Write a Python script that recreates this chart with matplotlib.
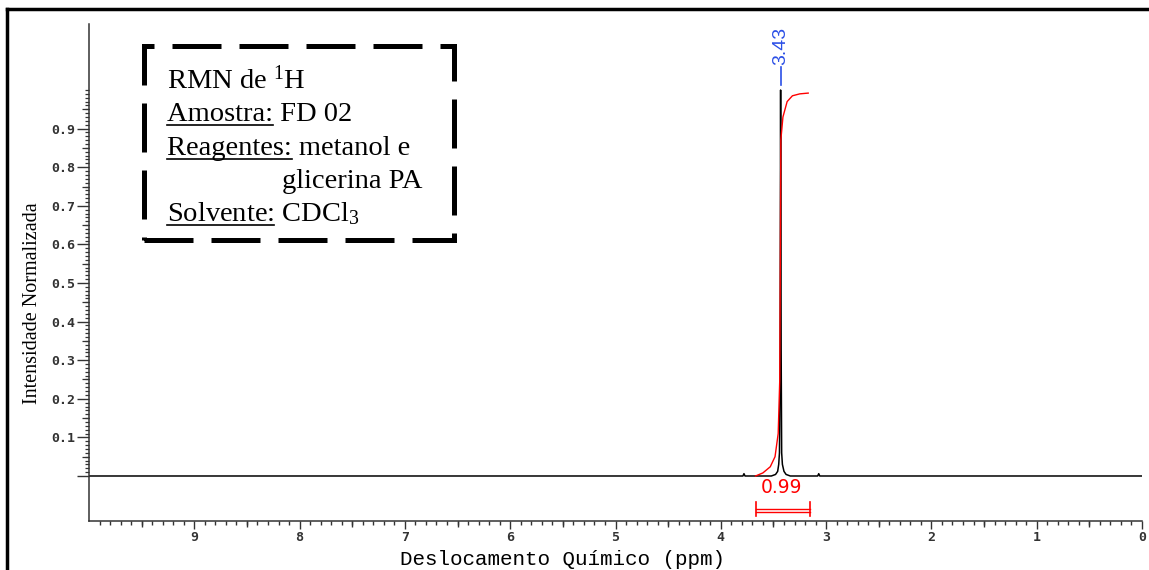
import matplotlib
matplotlib.use('Agg')
import matplotlib.pyplot as plt
from matplotlib.ticker import FixedLocator
from matplotlib.lines import Line2D
from matplotlib.patches import Rectangle

W, H = 1149, 570

# 1H NMR trace (ppm, normalised intensity)
spec_ppm = [10.0, 3.79, 3.78, 3.77, 3.52, 3.48, 3.46, 3.45, 3.443, 3.437, 3.432,
            3.427, 3.422, 3.415, 3.40, 3.38, 3.34, 3.08, 3.07, 3.06, 0.0]
spec_int = [0.0, 0.0, 0.006, 0.0, 0.0, 0.004, 0.012, 0.03, 0.06, 0.25, 1.0,
            0.33, 0.06, 0.03, 0.012, 0.004, 0.0, 0.0, 0.006, 0.0, 0.0]

# integral curve (red)
integ_ppm = [3.67, 3.60, 3.53, 3.485, 3.455, 3.44, 3.434, 3.43, 3.41, 3.37, 3.32, 3.25, 3.17]
integ_val = [0.0, 0.008, 0.024, 0.05, 0.11, 0.25, 0.6, 0.87, 0.93, 0.97, 0.985, 0.99, 0.992]

peak_pos = 3.43
peak_label = '3.43'
integ_from, integ_to = 3.67, 3.15
integ_label = '0.99'

xticks = [9, 8, 7, 6, 5, 4, 3, 2, 1, 0]
yticks = [0.0, 0.1, 0.2, 0.3, 0.4, 0.5, 0.6, 0.7, 0.8, 0.9]
ytick_labels = ['', '0.1', '0.2', '0.3', '0.4', '0.5', '0.6', '0.7', '0.8', '0.9']

box_lines = [('', 'RMN de $^{1}$H'),
             ('Amostra:', 'Amostra: FD 02'),
             ('Reagentes:', 'Reagentes: metanol e'),
             ('', 'glicerina PA'),
             ('Solvente:', 'Solvente: CDCl$_{3}$')]

plt.rcParams['mathtext.fontset'] = 'custom'
plt.rcParams['mathtext.rm'] = 'Liberation Serif'
plt.rcParams['mathtext.it'] = 'Liberation Serif:italic'

fig = plt.figure(figsize=(W / 100, H / 100), dpi=100)
ax = fig.add_axes([89 / W, 1 - 521 / H, (1142 - 89) / W, (521 - 24) / H])

ax.plot(spec_ppm, spec_int, color='black', lw=1.1)
ax.plot(integ_ppm, integ_val, color='red', lw=1.0)
ax.set_xlim(10, 0)
ax.set_ylim(-0.1166, 1.171)

for s in ['top', 'right']:
    ax.spines[s].set_visible(False)
for s in ['left', 'bottom']:
    ax.spines[s].set_color('#333333')
    ax.spines[s].set_linewidth(1.1)

tickfont = dict(family='DejaVu Sans Mono', size=9.5, weight='bold', color='#333333')
# x ticks
ax.xaxis.set_major_locator(FixedLocator(xticks))
ax.set_xticklabels([str(t) for t in xticks], **tickfont)
ax.xaxis.set_minor_locator(FixedLocator([i / 10 for i in range(0, 100)]))
ax.tick_params(axis='x', which='major', length=6, width=1, color='#333333', pad=1)
ax.tick_params(axis='x', which='minor', length=2.8, width=1, color='#333333')
secx = ax.secondary_xaxis('bottom')
secx.set_xticks([i + 0.5 for i in range(10)])
secx.tick_params(length=4.3, width=1, color='#333333', labelbottom=False)
secx.spines['bottom'].set_visible(False)

# y ticks
ax.yaxis.set_major_locator(FixedLocator(yticks))
ax.set_yticklabels(ytick_labels, **tickfont)
ax.yaxis.set_minor_locator(FixedLocator([i / 100 for i in range(0, 101)]))
ax.tick_params(axis='y', which='major', length=8.6, width=1, color='#333333', pad=1.4)
ax.tick_params(axis='y', which='minor', length=2.8, width=0.9, color='#333333')
secy = ax.secondary_yaxis('left')
secy.set_yticks([i / 100 for i in range(5, 101, 10)])
secy.tick_params(length=4.8, width=0.9, color='#333333', labelleft=False)
secy.spines['left'].set_visible(False)

# peak label
blue = '#2b4fe6'
ax.plot([peak_pos, peak_pos], [1.012, 1.06], color=blue, lw=1.2)
ax.text(peak_pos, 1.064, peak_label, rotation=90, ha='center', va='bottom',
        color=blue, family='Liberation Sans', size=14)

# integral bracket
ax.plot([integ_from, integ_to], [-0.085, -0.085], color='red', lw=1.0)
ax.plot([integ_from, integ_to], [-0.092, -0.092], color='red', lw=1.0)
ax.plot([integ_from, integ_from], [-0.067, -0.104], color='red', lw=1.2)
ax.plot([integ_to, integ_to], [-0.067, -0.104], color='red', lw=1.2)
ax.text((integ_from + integ_to) / 2 + 0.01, -0.03, integ_label, ha='center', va='center',
        color='red', family='DejaVu Sans', size=13.5)

# axis labels
fig.text(33 / W, 1 - 303 / H, 'Intensidade Normalizada', rotation=90, ha='center',
         va='center', family='Liberation Serif', size=14.5)
fig.text(563 / W, 1 - 565 / H, 'Deslocamento Químico (ppm)', ha='center', va='baseline',
         family='Liberation Mono', size=15)

# outer frame (top and left edges only)
fig.add_artist(Line2D([7.4 / W, 1], [1 - 8.8 / H, 1 - 8.8 / H], transform=fig.transFigure,
                      color='black', lw=2.5))
fig.add_artist(Line2D([7.4 / W, 7.4 / W], [0, 1 - 8.8 / H], transform=fig.transFigure,
                      color='black', lw=2.5))

# dashed info box
fig.add_artist(Rectangle((144 / W, 1 - 240 / H), (454 - 144) / W, (240 - 46) / H,
                         transform=fig.transFigure, fill=False, ec='black', lw=3.6,
                         ls=(0, (9.8, 3.6))))

renderer = fig.canvas.get_renderer()
baselines = [88.3, 120.7, 154.5, 188, 220.7]
xstarts = [167, 167, 167, 282, 167]
for (lab, full), yb, xs in zip(box_lines, baselines, xstarts):
    fig.text(xs / W, 1 - yb / H, full, ha='left', va='baseline',
             family='Liberation Serif', size=20.5)
    if lab:
        t = fig.text(xs / W, 1 - yb / H, lab, ha='left', va='baseline',
                     family='Liberation Serif', size=20.5, alpha=0)
        bb = t.get_window_extent(renderer)
        fig.add_artist(Line2D([bb.x0 / W, bb.x1 / W], [1 - (yb + 4.5) / H] * 2,
                              transform=fig.transFigure, color='black', lw=1.2))

fig.savefig('out.png', dpi=100)
